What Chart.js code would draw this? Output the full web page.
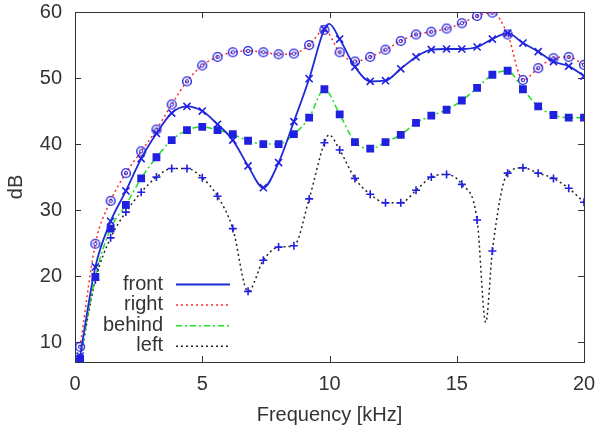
<!DOCTYPE html>
<html>
<head>
<meta charset="utf-8">
<script src="https://cdn.jsdelivr.net/npm/chart.js@4/dist/chart.umd.min.js"></script>
<style>
  html, body { margin: 0; padding: 0; background: #fff; }
  #wrap { width: 600px; height: 431px; }
</style>
</head>
<body>
<div id="wrap"><canvas id="canvas"></canvas></div>
<script>
// marker frequencies (kHz) and levels (dB)
var freqs = [0.2, 0.8, 1.4, 2.0, 2.6, 3.2, 3.8, 4.4, 5.0, 5.6, 6.2, 6.8, 7.4, 8.0, 8.6, 9.2, 9.8,
             10.4, 11.0, 11.6, 12.2, 12.8, 13.4, 14.0, 14.6, 15.2, 15.8, 16.4, 17.0, 17.6, 18.2, 18.8, 19.4, 20.0];
var front  = [7.9, 21.4, 28.3, 32.9, 37.8, 41.6, 44.7, 45.7, 45.0, 43.0, 40.6, 36.7, 33.4, 37.2, 43.4, 49.9, 57.4,
              55.9, 51.7, 49.5, 49.6, 51.4, 53.2, 54.3, 54.4, 54.4, 54.7, 55.9, 56.8, 55.3, 54.0, 52.5, 51.8, 50.3];
var right  = [9.3, 24.9, 31.4, 35.6, 38.9, 42.2, 46.0, 49.5, 51.9, 53.2, 53.9, 54.1, 53.9, 53.6, 53.7, 55.0, 57.3,
              53.9, 52.5, 53.2, 54.3, 55.6, 56.6, 57.0, 57.5, 58.3, 59.4, 59.9, 56.6, 49.7, 51.5, 53.0, 53.2, 52.0];
var behind = [7.5, 19.9, 27.2, 30.8, 34.8, 38.0, 40.6, 42.1, 42.6, 42.1, 41.5, 40.5, 40.0, 40.0, 41.5, 44.0, 48.3,
              44.5, 40.3, 39.3, 40.3, 41.4, 43.2, 44.3, 45.2, 46.6, 48.5, 50.5, 51.1, 48.3, 45.7, 44.4, 44.0, 44.0];
var left   = [7.3, 19.4, 25.8, 29.7, 32.7, 35.0, 36.3, 36.3, 34.9, 32.1, 27.2, 17.7, 22.4, 24.4, 24.6, 31.7, 40.2,
              39.1, 34.8, 32.4, 31.1, 31.1, 33.0, 35.0, 35.4, 33.9, 28.5, 23.8, 35.6, 36.4, 35.6, 34.8, 33.3, 31.2];

// curve vertices that sit between markers (peaks / dips)
var frontExtraX = [9.99];
var frontExtraY = [58.2];
var leftExtraX = [9.98, 16.14];
var leftExtraY = [41.4, 13.0];

var xTicks = [0, 5, 10, 15, 20];
var yTicks = [10, 20, 30, 40, 50, 60];

var FONT = "'Liberation Sans', Arial, sans-serif";
var TXT = '#333333';
var MARK = '#2020e0';

function curve(ys, exX, exY) {
  var pts = freqs.map(function(f, i){ return {x: f, y: ys[i], m: true}; });
  (exX || []).forEach(function(x, i){ pts.push({x: x, y: exY[i], m: false}); });
  pts.sort(function(a, b){ return a.x - b.x; });
  return pts;
}

// gnuplot style circle-with-dot marker
function ringMarker() {
  var c = document.createElement('canvas');
  c.width = 12; c.height = 12;
  var g = c.getContext('2d');
  g.strokeStyle = MARK; g.lineWidth = 1.4;
  g.beginPath(); g.arc(6, 6, 4.4, 0, Math.PI * 2); g.stroke();
  g.lineWidth = 1;
  g.beginPath(); g.arc(6, 6, 1.7, 0, Math.PI * 2); g.stroke();
  return c;
}

function ds(label, ys, exX, exY, color, dash, width, style, r, fill) {
  return {
    label: label,
    data: curve(ys, exX, exY),
    borderColor: color,
    borderDash: dash,
    borderWidth: width,
    cubicInterpolationMode: 'monotone',
    pointStyle: style,
    pointRadius: function(c){ return c.raw && c.raw.m ? r : 0; },
    pointHoverRadius: 0,
    pointBorderColor: MARK,
    pointBackgroundColor: fill ? MARK : 'rgba(0,0,0,0)',
    pointBorderWidth: 1.6
  };
}

var framePlugin = {
  id: 'frame',
  beforeDatasetsDraw: function(chart) {
    var ctx = chart.ctx, a = chart.chartArea, xs = chart.scales.x, ys = chart.scales.y;
    ctx.save();
    ctx.strokeStyle = '#333';
    ctx.lineWidth = 1;
    ctx.strokeRect(Math.round(a.left) + 0.5, Math.round(a.top) + 0.5,
                   Math.round(a.right - a.left), Math.round(a.bottom - a.top));
    ctx.beginPath();
    xTicks.forEach(function(v){
      var p = Math.round(xs.getPixelForValue(v)) + 0.5;
      ctx.moveTo(p, a.bottom); ctx.lineTo(p, a.bottom - 6);
      ctx.moveTo(p, a.top); ctx.lineTo(p, a.top + 6);
    });
    yTicks.forEach(function(v){
      var p = Math.round(ys.getPixelForValue(v)) + 0.5;
      ctx.moveTo(a.left, p); ctx.lineTo(a.left + 6, p);
      ctx.moveTo(a.right, p); ctx.lineTo(a.right - 6, p);
    });
    ctx.stroke();
    ctx.restore();
  },
  afterDraw: function(chart) {
    var ctx = chart.ctx;
    ctx.save();
    ctx.font = '20px ' + FONT;
    ctx.textAlign = 'right';
    ctx.textBaseline = 'middle';
    chart.data.datasets.forEach(function(d, i){
      var y = 284 + i * 20.6;
      ctx.fillStyle = TXT;
      ctx.fillText(d.label, 163, y);
      ctx.strokeStyle = d.borderColor;
      ctx.lineWidth = d.borderWidth;
      ctx.setLineDash(d.borderDash);
      ctx.beginPath();
      ctx.moveTo(176, y + 0.5); ctx.lineTo(230, y + 0.5);
      ctx.stroke();
    });
    ctx.restore();
  }
};

var chart = new Chart(document.getElementById('canvas'), {
  type: 'line',
  data: {
    datasets: [
      ds('front',  front,  frontExtraX, frontExtraY, '#1e2ad8', [], 1.8, 'crossRot', 5, false),
      ds('right',  right,  null, null, '#ff2a2a', [2, 3], 1.5, ringMarker(), 5, false),
      ds('behind', behind, null, null, '#22dd22', [6, 3, 2, 3], 1.5, 'rect', 4.4, true),
      ds('left',   left,   leftExtraX, leftExtraY, '#222222', [2, 3], 1.5, 'cross', 4, false)
    ]
  },
  options: {
    responsive: true,
    maintainAspectRatio: false,
    animation: false,
    events: [],
    layout: { padding: { top: 12, right: 16, left: 0, bottom: 0 } },
    plugins: { legend: { display: false }, tooltip: { enabled: false } },
    scales: {
      x: {
        type: 'linear', min: 0, max: 20,
        afterBuildTicks: function(s){ s.ticks = xTicks.map(function(v){ return {value: v}; }); },
        afterFit: function(s){ s.height = 69; s.paddingLeft = 0; s.paddingRight = 0; },
        grid: { display: false, drawTicks: false },
        border: { display: false },
        ticks: { color: TXT, font: { family: FONT, size: 20, lineHeight: 1.2 }, padding: 10, maxRotation: 0 },
        title: { display: true, text: 'Frequency [kHz]', color: TXT,
                 font: { family: FONT, size: 20, lineHeight: 1.2 }, padding: { top: 0, bottom: 4 } }
      },
      y: {
        type: 'linear', min: 7, max: 60,
        afterBuildTicks: function(s){ s.ticks = yTicks.map(function(v){ return {value: v}; }); },
        afterFit: function(s){ s.width = 75; s.paddingTop = 0; s.paddingBottom = 0; },
        grid: { display: false, drawTicks: false },
        border: { display: false },
        ticks: { color: TXT, font: { family: FONT, size: 20, lineHeight: 1.0 }, padding: 13 },
        title: { display: true, text: 'dB', color: TXT,
                 font: { family: FONT, size: 20, lineHeight: 1.2 }, padding: { top: 4, bottom: 0 } }
      }
    }
  },
  plugins: [framePlugin]
});
</script>
</body>
</html>
